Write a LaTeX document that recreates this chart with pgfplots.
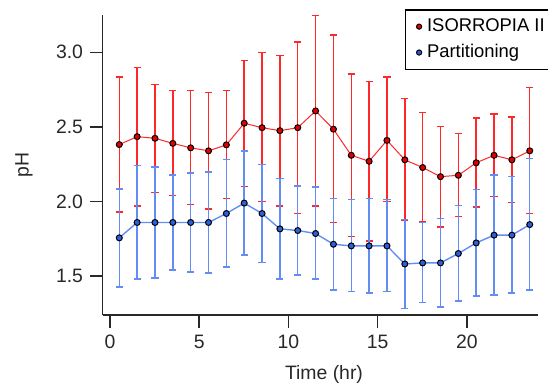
\documentclass[border=0pt]{standalone}
\usepackage{fontspec}
\setmainfont{Liberation Sans}
\usepackage{pgfplots}
\usepackage{pgfplotstable}
\pgfplotsset{compat=1.18}
\definecolor{redline}{RGB}{255,40,40}
\definecolor{redfill}{RGB}{225,0,0}
\definecolor{blueline}{RGB}{100,140,245}
\definecolor{bluefill}{RGB}{45,95,220}
\definecolor{axgray}{RGB}{40,40,40}

\pgfplotstableread{
x y hi lo
0.52 2.382 2.835 1.930
1.52 2.435 2.897 1.970
2.52 2.424 2.783 2.060
3.52 2.390 2.743 2.040
4.52 2.360 2.743 1.980
5.52 2.340 2.732 1.950
6.52 2.380 2.743 2.020
7.52 2.525 2.946 2.100
8.52 2.495 2.998 2.000
9.52 2.475 2.978 1.970
10.52 2.495 3.070 1.920
11.52 2.607 3.248 1.970
12.52 2.485 3.116 1.860
13.52 2.310 2.855 1.766
14.52 2.270 2.806 1.737
15.52 2.410 2.835 2.000
16.52 2.280 2.690 1.875
17.52 2.228 2.598 1.862
18.52 2.167 2.504 1.828
19.52 2.176 2.455 1.900
20.52 2.260 2.560 1.962
21.52 2.310 2.587 2.033
22.52 2.280 2.567 1.993
23.52 2.340 2.763 1.920
}\isorropia

\pgfplotstableread{
x y hi lo
0.52 1.757 2.085 1.429
1.52 1.860 2.241 1.480
2.52 1.860 2.230 1.489
3.52 1.860 2.179 1.540
4.52 1.860 2.190 1.529
5.52 1.860 2.199 1.520
6.52 1.920 2.281 1.560
7.52 1.990 2.340 1.643
8.52 1.920 2.250 1.592
9.52 1.817 2.156 1.480
10.52 1.806 2.105 1.509
11.52 1.786 2.096 1.480
12.52 1.714 2.022 1.408
13.52 1.703 2.013 1.397
14.52 1.703 2.022 1.386
15.52 1.703 2.013 1.397
16.52 1.582 1.880 1.283
17.52 1.589 1.860 1.324
18.52 1.589 1.888 1.295
19.52 1.652 1.973 1.335
20.52 1.723 2.082 1.366
21.52 1.775 2.179 1.375
22.52 1.775 2.167 1.386
23.52 1.846 2.290 1.408
}\partitioning

\begin{document}
\begin{tikzpicture}
\begin{axis}[
  name=ax,
  scale only axis,
  width=217.8pt, height=150pt,
  xmin=-0.41, xmax=24, ymin=1.24, ymax=3.25,
  axis lines*=left,
  axis line style={axgray, line width=0.8pt},
  every tick/.style={axgray, line width=0.8pt},
  tick align=outside,
  major tick length=6.3pt,
  xtick={0,5,10,15,20},
  ytick={1.5,2.0,2.5,3.0},
  yticklabel style={/pgf/number format/fixed, /pgf/number format/precision=1, /pgf/number format/fixed zerofill},
  /pgf/number format/assume math mode=true,
  tick label style={font=\fontsize{9.7}{11}\selectfont, text=axgray},
  label style={font=\fontsize{9.7}{11}\selectfont, text=axgray},
  xlabel={Time (hr)},
  ylabel={pH},
  xlabel style={at={(axis description cs:0.508,-0.1967)}, anchor=center},
  ylabel style={at={(axis description cs:-0.1807,0.5)}, anchor=center},
  legend style={at={(axis description cs:0.7016,1)}, anchor=north west, xshift=-1.6pt, yshift=2.85pt,
    draw=black, line width=0.6pt, font=\fontsize{9.2}{10.5}\selectfont, inner xsep=2pt, inner ysep=2.4pt,
    row sep=0.9pt, column sep=0pt, cells={anchor=west}},
  legend cell align=left,
  legend image code/.code={\path[draw=none, fill=none] (0pt,0pt) -- (6.7pt,0pt); \draw[#1, mark size=1.3pt] plot coordinates {(4.7pt,0pt)};},
  clip=false,
]
\addplot[redline, line width=0.5pt,
  mark=*, mark size=1.5pt, mark options={fill=redfill, draw=black, line width=0.5pt},
  error bars/.cd, y dir=both, y explicit,
  error bar style={redline, line width=0.75pt},
  error mark options={rotate=90, redline, mark size=1.8pt, line width=0.75pt}]
  table[x=x, y=y, y error plus expr=\thisrow{hi}-\thisrow{y}, y error minus expr=\thisrow{y}-\thisrow{lo}] {\isorropia};
\addlegendentry{ISORROPIA II}
\addplot[blueline, line width=0.7pt,
  mark=*, mark size=1.5pt, mark options={fill=bluefill, draw=black, line width=0.5pt},
  error bars/.cd, y dir=both, y explicit,
  error bar style={blueline, line width=0.75pt},
  error mark options={rotate=90, blueline, mark size=1.8pt, line width=0.75pt}]
  table[x=x, y=y, y error plus expr=\thisrow{hi}-\thisrow{y}, y error minus expr=\thisrow{y}-\thisrow{lo}] {\partitioning};
\addlegendentry{Partitioning}
\end{axis}
\pgfresetboundingbox
\path ([shift={(-51.35pt,-34pt)}]ax.south west) rectangle ([shift={(4.85pt,7.5pt)}]ax.north east);
\end{tikzpicture}
\end{document}
